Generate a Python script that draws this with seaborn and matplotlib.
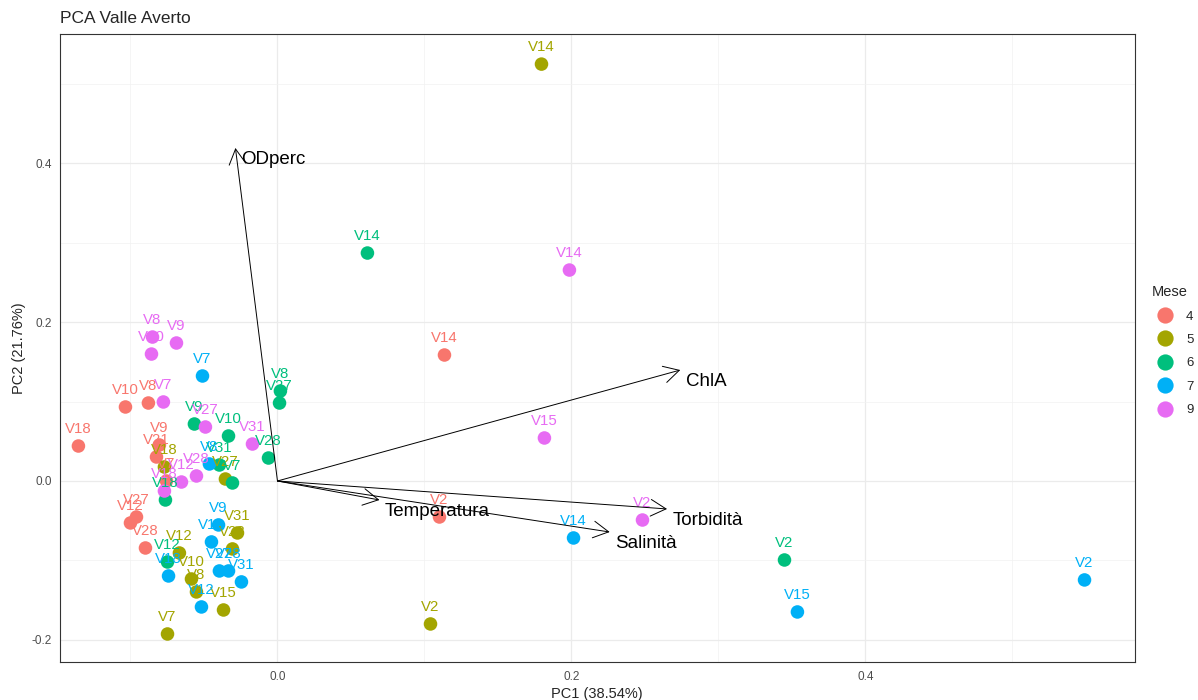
import pandas as pd
import matplotlib
matplotlib.use('Agg')
import matplotlib.pyplot as plt
import seaborn as sns

# Scores (PC1, PC2), grouped by month
sample_ids = [
    # Mese 4
    'V14', 'V2', 'V10', 'V8', 'V18', 'V9', 'V21', 'V7', 'V27', 'V12', 'V28',
    # Mese 5
    'V14', 'V2', 'V7', 'V18', 'V27', 'V31', 'V28', 'V12', 'V10', 'V8', 'V15',
    # Mese 6
    'V14', 'V2', 'V8', 'V27', 'V9', 'V10', 'V28', 'V7', 'V31', 'V18', 'V12',
    # Mese 7
    'V2', 'V15', 'V14', 'V7', 'V8', 'V9', 'V10', 'V27', 'V28', 'V31', 'V18', 'V12',
    # Mese 9
    'V14', 'V15', 'V2', 'V8', 'V10', 'V9', 'V7', 'V27', 'V31', 'V28', 'V12', 'V18',
]
pc1 = [
    0.1136, 0.1102, -0.1034, -0.0878, -0.1354, -0.0803, -0.0823, -0.0755, -0.0959, -0.1000, -0.0898,
    0.1796, 0.1041, -0.0748, -0.0769, -0.0354, -0.0272, -0.0306, -0.0667, -0.0585, -0.0551, -0.0367,
    0.0612, 0.3449, 0.0020, 0.0014, -0.0565, -0.0333, -0.0061, -0.0306, -0.0395, -0.0762, -0.0748,
    0.5490, 0.3537, 0.2014, -0.0510, -0.0463, -0.0401, -0.0449, -0.0395, -0.0333, -0.0245, -0.0741, -0.0517,
    0.1986, 0.1816, 0.2483, -0.0850, -0.0857, -0.0687, -0.0776, -0.0490, -0.0170, -0.0551, -0.0653, -0.0769,
]
pc2 = [
    0.1585, -0.0453, 0.0931, 0.0981, 0.0440, 0.0453, 0.0302, 0.0000, -0.0453, -0.0528, -0.0843,
    0.5245, -0.1799, -0.1925, 0.0176, 0.0025, -0.0654, -0.0855, -0.0906, -0.1233, -0.1396, -0.1623,
    0.2868, -0.0994, 0.1132, 0.0981, 0.0717, 0.0566, 0.0289, -0.0025, 0.0201, -0.0239, -0.1019,
    -0.1245, -0.1648, -0.0717, 0.1321, 0.0214, -0.0553, -0.0767, -0.1132, -0.1132, -0.1270, -0.1195, -0.1585,
    0.2654, 0.0541, -0.0491, 0.1811, 0.1597, 0.1736, 0.0994, 0.0679, 0.0465, 0.0063, -0.0013, -0.0126,
]
mese = [4] * 11 + [5] * 11 + [6] * 11 + [7] * 12 + [9] * 12

# Loadings (arrows)
var_names = ['ODperc', 'ChlA', 'Temperatura', 'Torbidità', 'Salinità']
load_pc1 = [-0.0286, 0.2740, 0.0694, 0.2650, 0.2260]
load_pc2 = [0.4190, 0.1396, -0.0239, -0.0352, -0.0642]

mese_levels = [4, 5, 6, 7, 9]
mese_colors = ['#F8766D', '#A3A500', '#00BF7D', '#00B0F6', '#E76BF3']

df = pd.DataFrame({'id': sample_ids, 'PC1': pc1, 'PC2': pc2, 'Mese': mese})
df['Mese'] = pd.Categorical(df['Mese'].astype(str), categories=[str(m) for m in mese_levels])
palette = dict(zip([str(m) for m in mese_levels], mese_colors))

sns.set_style('white')
plt.rcParams['font.family'] = ['Liberation Sans', 'DejaVu Sans']

fig = plt.figure(figsize=(11.98, 7.0), dpi=100)
ax = fig.add_axes([0.050, 0.054, 0.897, 0.897])

sns.scatterplot(data=df, x='PC1', y='PC2', hue='Mese', palette=palette,
                s=95, linewidth=0, ax=ax, zorder=3)

# Sample labels above the points
for _, r in df.iterrows():
    ax.annotate(r['id'], (r['PC1'], r['PC2']), xytext=(0, 12), textcoords='offset points',
                ha='center', va='center', fontsize=10.8, color=palette[r['Mese']], zorder=4)

# Loading arrows
for name, lx, ly in zip(var_names, load_pc1, load_pc2):
    ax.annotate('', xy=(lx, ly), xytext=(0, 0),
                arrowprops=dict(arrowstyle='->,head_length=0.55,head_width=0.3',
                                color='black', lw=0.7, shrinkA=0, shrinkB=0,
                                mutation_scale=20), zorder=5)
    ax.annotate(name, (lx, ly), xytext=(4, -8), textcoords='offset points',
                ha='left', va='center', fontsize=13.5, color='black', zorder=6)

ax.set_xlim(-0.148, 0.583)
ax.set_ylim(-0.228, 0.562)
ax.set_xticks([0.0, 0.2, 0.4])
ax.set_xticklabels(['0.0', '0.2', '0.4'])
ax.set_yticks([-0.2, 0.0, 0.2, 0.4])
ax.set_yticklabels(['-0.2', '0.0', '0.2', '0.4'])
ax.set_xticks([-0.1, 0.1, 0.3, 0.5], minor=True)
ax.set_yticks([-0.1, 0.1, 0.3, 0.5], minor=True)
ax.grid(which='major', color='#EBEBEB', lw=0.9, zorder=0)
ax.grid(which='minor', color='#F2F2F2', lw=0.5, zorder=0)
ax.set_axisbelow(True)
ax.tick_params(which='major', length=3, width=0.6, color='#333333',
               labelsize=8.5, labelcolor='#4D4D4D', pad=3)
ax.tick_params(which='minor', length=0)
for sp in ax.spines.values():
    sp.set_color('#333333')
    sp.set_linewidth(0.8)

ax.set_xlabel('PC1 (38.54%)', fontsize=10.5, labelpad=3)
ax.set_ylabel('PC2 (21.76%)', fontsize=10.5, labelpad=4)
fig.text(0.050, 0.974, 'PCA Valle Averto', fontsize=12.5, ha='left', va='center')

sns.move_legend(ax, loc='center left', bbox_to_anchor=(1.005, 0.496), frameon=False,
                title='Mese', fontsize=9.5, title_fontsize=10.5, markerscale=1.2,
                handletextpad=0.6, labelspacing=0.85, alignment='left')

fig.savefig('out.png', dpi=100)
